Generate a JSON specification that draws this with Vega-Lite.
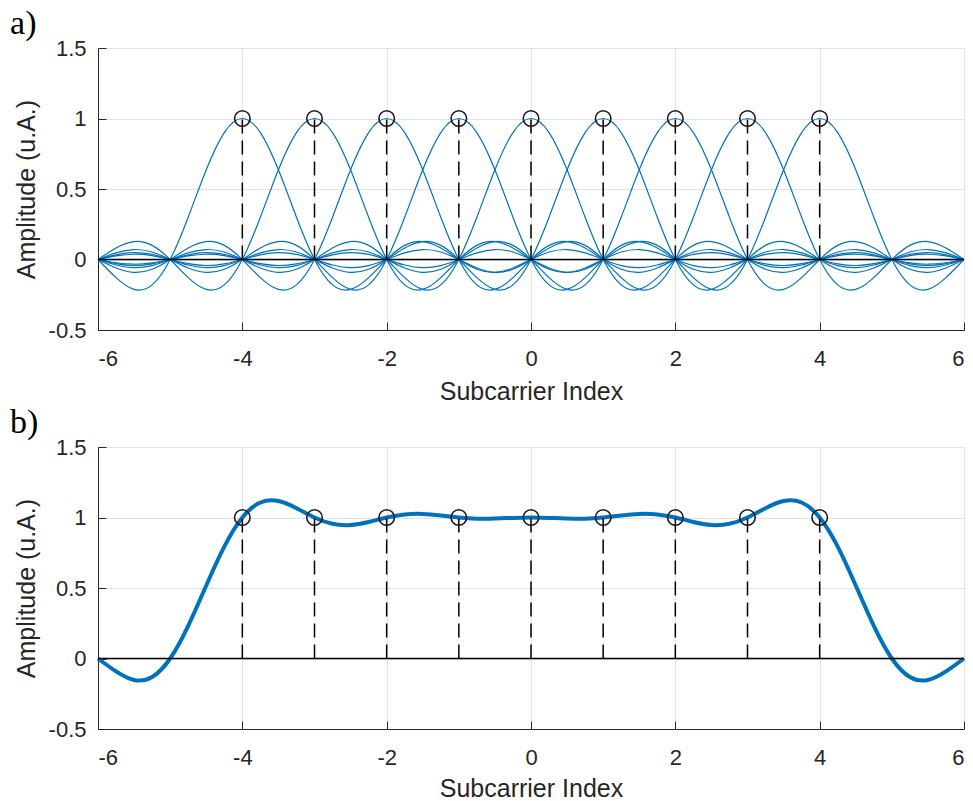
{
"$schema": "https://vega.github.io/schema/vega-lite/v6.json",
"background": "white",
"padding": {"left": 10, "top": 7, "right": 0, "bottom": 0},
"spacing": 2,
"config": {
 "view": {"stroke": null},
 "font": "Liberation Sans",
 "axis": {"domainColor": "#262626", "domainWidth": 1, "tickColor": "#262626", "tickWidth": 1, "labelColor": "#262626", "titleColor": "#262626", "labelFont": "Liberation Sans", "titleFont": "Liberation Sans", "labelFontSize": 22, "titleFontSize": 25, "titleFontWeight": "normal", "gridColor": "#e3e3e3", "gridWidth": 1, "tickSize": -8},
 "title": {"anchor": "start", "frame": "bounds", "font": "Liberation Serif", "fontSize": 34, "fontWeight": "normal", "color": "#000000", "offset": -4, "dx": -4}
},
"datasets": {
 "peaks": [{"x":-4,"y0":0,"y":1},{"x":-3,"y0":0,"y":1},{"x":-2,"y0":0,"y":1},{"x":-1,"y0":0,"y":1},{"x":0,"y0":0,"y":1},{"x":1,"y0":0,"y":1},{"x":2,"y0":0,"y":1},{"x":3,"y0":0,"y":1},{"x":4,"y0":0,"y":1}],
 "zero": [{"y":0}],
 "sum": [{"x":-6,"y":0},{"x":-5.75,"y":-0.0916},{"x":-5.5,"y":-0.1525},{"x":-5.25,"y":-0.1313},{"x":-5,"y":0},{"x":-4.75,"y":0.2316},{"x":-4.5,"y":0.5176},{"x":-4.25,"y":0.7933},{"x":-4,"y":1},{"x":-3.75,"y":1.1062},{"x":-3.5,"y":1.1168},{"x":-3.25,"y":1.0661},{"x":-3,"y":1},{"x":-2.75,"y":0.9551},{"x":-2.5,"y":0.947},{"x":-2.25,"y":0.9685},{"x":-2,"y":1},{"x":-1.75,"y":1.0218},{"x":-1.5,"y":1.0253},{"x":-1.25,"y":1.0143},{"x":-1,"y":1},{"x":-0.75,"y":0.9916},{"x":-0.5,"y":0.9923},{"x":-0.25,"y":0.9972},{"x":0,"y":1},{"x":0.25,"y":0.9972},{"x":0.5,"y":0.9923},{"x":0.75,"y":0.9916},{"x":1,"y":1},{"x":1.25,"y":1.0143},{"x":1.5,"y":1.0253},{"x":1.75,"y":1.0218},{"x":2,"y":1},{"x":2.25,"y":0.9685},{"x":2.5,"y":0.947},{"x":2.75,"y":0.9551},{"x":3,"y":1},{"x":3.25,"y":1.0661},{"x":3.5,"y":1.1168},{"x":3.75,"y":1.1062},{"x":4,"y":1},{"x":4.25,"y":0.7933},{"x":4.5,"y":0.5176},{"x":4.75,"y":0.2316},{"x":5,"y":0},{"x":5.25,"y":-0.1313},{"x":5.5,"y":-0.1525},{"x":5.75,"y":-0.0916},{"x":6,"y":0}],
 "curves": [
{"k":-4,"x":-6,"y":0},{"k":-4,"x":-5.75,"y":-0.1286},{"k":-4,"x":-5.5,"y":-0.2122},{"k":-4,"x":-5.25,"y":-0.1801},
{"k":-4,"x":-5,"y":0},{"k":-4,"x":-4.75,"y":0.3001},{"k":-4,"x":-4.5,"y":0.6366},{"k":-4,"x":-4.25,"y":0.9003},
{"k":-4,"x":-4,"y":1},{"k":-4,"x":-3.75,"y":0.9003},{"k":-4,"x":-3.5,"y":0.6366},{"k":-4,"x":-3.25,"y":0.3001},
{"k":-4,"x":-3,"y":0},{"k":-4,"x":-2.75,"y":-0.1801},{"k":-4,"x":-2.5,"y":-0.2122},{"k":-4,"x":-2.25,"y":-0.1286},
{"k":-4,"x":-2,"y":0},{"k":-4,"x":-1.75,"y":0.1},{"k":-4,"x":-1.5,"y":0.1273},{"k":-4,"x":-1.25,"y":0.0818},
{"k":-4,"x":-1,"y":0},{"k":-4,"x":-0.75,"y":-0.0693},{"k":-4,"x":-0.5,"y":-0.0909},{"k":-4,"x":-0.25,"y":-0.06},
{"k":-4,"x":0,"y":0},{"k":-4,"x":0.25,"y":0.053},{"k":-4,"x":0.5,"y":0.0707},{"k":-4,"x":0.75,"y":0.0474},
{"k":-4,"x":1,"y":0},{"k":-4,"x":1.25,"y":-0.0429},{"k":-4,"x":1.5,"y":-0.0579},{"k":-4,"x":1.75,"y":-0.0391},
{"k":-4,"x":2,"y":0},{"k":-4,"x":2.25,"y":0.036},{"k":-4,"x":2.5,"y":0.049},{"k":-4,"x":2.75,"y":0.0333},
{"k":-4,"x":3,"y":0},{"k":-4,"x":3.25,"y":-0.031},{"k":-4,"x":3.5,"y":-0.0424},{"k":-4,"x":3.75,"y":-0.029},
{"k":-4,"x":4,"y":0},{"k":-4,"x":4.25,"y":0.0273},{"k":-4,"x":4.5,"y":0.0374},{"k":-4,"x":4.75,"y":0.0257},
{"k":-4,"x":5,"y":0},{"k":-4,"x":5.25,"y":-0.0243},{"k":-4,"x":5.5,"y":-0.0335},{"k":-4,"x":5.75,"y":-0.0231},
{"k":-4,"x":6,"y":0},
{"k":-3,"x":-6,"y":0},{"k":-3,"x":-5.75,"y":0.0818},{"k":-3,"x":-5.5,"y":0.1273},{"k":-3,"x":-5.25,"y":0.1},
{"k":-3,"x":-5,"y":0},{"k":-3,"x":-4.75,"y":-0.1286},{"k":-3,"x":-4.5,"y":-0.2122},{"k":-3,"x":-4.25,"y":-0.1801},
{"k":-3,"x":-4,"y":0},{"k":-3,"x":-3.75,"y":0.3001},{"k":-3,"x":-3.5,"y":0.6366},{"k":-3,"x":-3.25,"y":0.9003},
{"k":-3,"x":-3,"y":1},{"k":-3,"x":-2.75,"y":0.9003},{"k":-3,"x":-2.5,"y":0.6366},{"k":-3,"x":-2.25,"y":0.3001},
{"k":-3,"x":-2,"y":0},{"k":-3,"x":-1.75,"y":-0.1801},{"k":-3,"x":-1.5,"y":-0.2122},{"k":-3,"x":-1.25,"y":-0.1286},
{"k":-3,"x":-1,"y":0},{"k":-3,"x":-0.75,"y":0.1},{"k":-3,"x":-0.5,"y":0.1273},{"k":-3,"x":-0.25,"y":0.0818},
{"k":-3,"x":0,"y":0},{"k":-3,"x":0.25,"y":-0.0693},{"k":-3,"x":0.5,"y":-0.0909},{"k":-3,"x":0.75,"y":-0.06},
{"k":-3,"x":1,"y":0},{"k":-3,"x":1.25,"y":0.053},{"k":-3,"x":1.5,"y":0.0707},{"k":-3,"x":1.75,"y":0.0474},
{"k":-3,"x":2,"y":0},{"k":-3,"x":2.25,"y":-0.0429},{"k":-3,"x":2.5,"y":-0.0579},{"k":-3,"x":2.75,"y":-0.0391},
{"k":-3,"x":3,"y":0},{"k":-3,"x":3.25,"y":0.036},{"k":-3,"x":3.5,"y":0.049},{"k":-3,"x":3.75,"y":0.0333},
{"k":-3,"x":4,"y":0},{"k":-3,"x":4.25,"y":-0.031},{"k":-3,"x":4.5,"y":-0.0424},{"k":-3,"x":4.75,"y":-0.029},
{"k":-3,"x":5,"y":0},{"k":-3,"x":5.25,"y":0.0273},{"k":-3,"x":5.5,"y":0.0374},{"k":-3,"x":5.75,"y":0.0257},
{"k":-3,"x":6,"y":0},
{"k":-2,"x":-6,"y":0},{"k":-2,"x":-5.75,"y":-0.06},{"k":-2,"x":-5.5,"y":-0.0909},{"k":-2,"x":-5.25,"y":-0.0693},
{"k":-2,"x":-5,"y":0},{"k":-2,"x":-4.75,"y":0.0818},{"k":-2,"x":-4.5,"y":0.1273},{"k":-2,"x":-4.25,"y":0.1},
{"k":-2,"x":-4,"y":0},{"k":-2,"x":-3.75,"y":-0.1286},{"k":-2,"x":-3.5,"y":-0.2122},{"k":-2,"x":-3.25,"y":-0.1801},
{"k":-2,"x":-3,"y":0},{"k":-2,"x":-2.75,"y":0.3001},{"k":-2,"x":-2.5,"y":0.6366},{"k":-2,"x":-2.25,"y":0.9003},
{"k":-2,"x":-2,"y":1},{"k":-2,"x":-1.75,"y":0.9003},{"k":-2,"x":-1.5,"y":0.6366},{"k":-2,"x":-1.25,"y":0.3001},
{"k":-2,"x":-1,"y":0},{"k":-2,"x":-0.75,"y":-0.1801},{"k":-2,"x":-0.5,"y":-0.2122},{"k":-2,"x":-0.25,"y":-0.1286},
{"k":-2,"x":0,"y":0},{"k":-2,"x":0.25,"y":0.1},{"k":-2,"x":0.5,"y":0.1273},{"k":-2,"x":0.75,"y":0.0818},
{"k":-2,"x":1,"y":0},{"k":-2,"x":1.25,"y":-0.0693},{"k":-2,"x":1.5,"y":-0.0909},{"k":-2,"x":1.75,"y":-0.06},
{"k":-2,"x":2,"y":0},{"k":-2,"x":2.25,"y":0.053},{"k":-2,"x":2.5,"y":0.0707},{"k":-2,"x":2.75,"y":0.0474},
{"k":-2,"x":3,"y":0},{"k":-2,"x":3.25,"y":-0.0429},{"k":-2,"x":3.5,"y":-0.0579},{"k":-2,"x":3.75,"y":-0.0391},
{"k":-2,"x":4,"y":0},{"k":-2,"x":4.25,"y":0.036},{"k":-2,"x":4.5,"y":0.049},{"k":-2,"x":4.75,"y":0.0333},
{"k":-2,"x":5,"y":0},{"k":-2,"x":5.25,"y":-0.031},{"k":-2,"x":5.5,"y":-0.0424},{"k":-2,"x":5.75,"y":-0.029},
{"k":-2,"x":6,"y":0},
{"k":-1,"x":-6,"y":0},{"k":-1,"x":-5.75,"y":0.0474},{"k":-1,"x":-5.5,"y":0.0707},{"k":-1,"x":-5.25,"y":0.053},
{"k":-1,"x":-5,"y":0},{"k":-1,"x":-4.75,"y":-0.06},{"k":-1,"x":-4.5,"y":-0.0909},{"k":-1,"x":-4.25,"y":-0.0693},
{"k":-1,"x":-4,"y":0},{"k":-1,"x":-3.75,"y":0.0818},{"k":-1,"x":-3.5,"y":0.1273},{"k":-1,"x":-3.25,"y":0.1},
{"k":-1,"x":-3,"y":0},{"k":-1,"x":-2.75,"y":-0.1286},{"k":-1,"x":-2.5,"y":-0.2122},{"k":-1,"x":-2.25,"y":-0.1801},
{"k":-1,"x":-2,"y":0},{"k":-1,"x":-1.75,"y":0.3001},{"k":-1,"x":-1.5,"y":0.6366},{"k":-1,"x":-1.25,"y":0.9003},
{"k":-1,"x":-1,"y":1},{"k":-1,"x":-0.75,"y":0.9003},{"k":-1,"x":-0.5,"y":0.6366},{"k":-1,"x":-0.25,"y":0.3001},
{"k":-1,"x":0,"y":0},{"k":-1,"x":0.25,"y":-0.1801},{"k":-1,"x":0.5,"y":-0.2122},{"k":-1,"x":0.75,"y":-0.1286},
{"k":-1,"x":1,"y":0},{"k":-1,"x":1.25,"y":0.1},{"k":-1,"x":1.5,"y":0.1273},{"k":-1,"x":1.75,"y":0.0818},
{"k":-1,"x":2,"y":0},{"k":-1,"x":2.25,"y":-0.0693},{"k":-1,"x":2.5,"y":-0.0909},{"k":-1,"x":2.75,"y":-0.06},
{"k":-1,"x":3,"y":0},{"k":-1,"x":3.25,"y":0.053},{"k":-1,"x":3.5,"y":0.0707},{"k":-1,"x":3.75,"y":0.0474},
{"k":-1,"x":4,"y":0},{"k":-1,"x":4.25,"y":-0.0429},{"k":-1,"x":4.5,"y":-0.0579},{"k":-1,"x":4.75,"y":-0.0391},
{"k":-1,"x":5,"y":0},{"k":-1,"x":5.25,"y":0.036},{"k":-1,"x":5.5,"y":0.049},{"k":-1,"x":5.75,"y":0.0333},
{"k":-1,"x":6,"y":0},
{"k":0,"x":-6,"y":0},{"k":0,"x":-5.75,"y":-0.0391},{"k":0,"x":-5.5,"y":-0.0579},{"k":0,"x":-5.25,"y":-0.0429},
{"k":0,"x":-5,"y":0},{"k":0,"x":-4.75,"y":0.0474},{"k":0,"x":-4.5,"y":0.0707},{"k":0,"x":-4.25,"y":0.053},
{"k":0,"x":-4,"y":0},{"k":0,"x":-3.75,"y":-0.06},{"k":0,"x":-3.5,"y":-0.0909},{"k":0,"x":-3.25,"y":-0.0693},
{"k":0,"x":-3,"y":0},{"k":0,"x":-2.75,"y":0.0818},{"k":0,"x":-2.5,"y":0.1273},{"k":0,"x":-2.25,"y":0.1},
{"k":0,"x":-2,"y":0},{"k":0,"x":-1.75,"y":-0.1286},{"k":0,"x":-1.5,"y":-0.2122},{"k":0,"x":-1.25,"y":-0.1801},
{"k":0,"x":-1,"y":0},{"k":0,"x":-0.75,"y":0.3001},{"k":0,"x":-0.5,"y":0.6366},{"k":0,"x":-0.25,"y":0.9003},
{"k":0,"x":0,"y":1},{"k":0,"x":0.25,"y":0.9003},{"k":0,"x":0.5,"y":0.6366},{"k":0,"x":0.75,"y":0.3001},
{"k":0,"x":1,"y":0},{"k":0,"x":1.25,"y":-0.1801},{"k":0,"x":1.5,"y":-0.2122},{"k":0,"x":1.75,"y":-0.1286},
{"k":0,"x":2,"y":0},{"k":0,"x":2.25,"y":0.1},{"k":0,"x":2.5,"y":0.1273},{"k":0,"x":2.75,"y":0.0818},
{"k":0,"x":3,"y":0},{"k":0,"x":3.25,"y":-0.0693},{"k":0,"x":3.5,"y":-0.0909},{"k":0,"x":3.75,"y":-0.06},
{"k":0,"x":4,"y":0},{"k":0,"x":4.25,"y":0.053},{"k":0,"x":4.5,"y":0.0707},{"k":0,"x":4.75,"y":0.0474},
{"k":0,"x":5,"y":0},{"k":0,"x":5.25,"y":-0.0429},{"k":0,"x":5.5,"y":-0.0579},{"k":0,"x":5.75,"y":-0.0391},
{"k":0,"x":6,"y":0},
{"k":1,"x":-6,"y":0},{"k":1,"x":-5.75,"y":0.0333},{"k":1,"x":-5.5,"y":0.049},{"k":1,"x":-5.25,"y":0.036},
{"k":1,"x":-5,"y":0},{"k":1,"x":-4.75,"y":-0.0391},{"k":1,"x":-4.5,"y":-0.0579},{"k":1,"x":-4.25,"y":-0.0429},
{"k":1,"x":-4,"y":0},{"k":1,"x":-3.75,"y":0.0474},{"k":1,"x":-3.5,"y":0.0707},{"k":1,"x":-3.25,"y":0.053},
{"k":1,"x":-3,"y":0},{"k":1,"x":-2.75,"y":-0.06},{"k":1,"x":-2.5,"y":-0.0909},{"k":1,"x":-2.25,"y":-0.0693},
{"k":1,"x":-2,"y":0},{"k":1,"x":-1.75,"y":0.0818},{"k":1,"x":-1.5,"y":0.1273},{"k":1,"x":-1.25,"y":0.1},
{"k":1,"x":-1,"y":0},{"k":1,"x":-0.75,"y":-0.1286},{"k":1,"x":-0.5,"y":-0.2122},{"k":1,"x":-0.25,"y":-0.1801},
{"k":1,"x":0,"y":0},{"k":1,"x":0.25,"y":0.3001},{"k":1,"x":0.5,"y":0.6366},{"k":1,"x":0.75,"y":0.9003},
{"k":1,"x":1,"y":1},{"k":1,"x":1.25,"y":0.9003},{"k":1,"x":1.5,"y":0.6366},{"k":1,"x":1.75,"y":0.3001},
{"k":1,"x":2,"y":0},{"k":1,"x":2.25,"y":-0.1801},{"k":1,"x":2.5,"y":-0.2122},{"k":1,"x":2.75,"y":-0.1286},
{"k":1,"x":3,"y":0},{"k":1,"x":3.25,"y":0.1},{"k":1,"x":3.5,"y":0.1273},{"k":1,"x":3.75,"y":0.0818},
{"k":1,"x":4,"y":0},{"k":1,"x":4.25,"y":-0.0693},{"k":1,"x":4.5,"y":-0.0909},{"k":1,"x":4.75,"y":-0.06},
{"k":1,"x":5,"y":0},{"k":1,"x":5.25,"y":0.053},{"k":1,"x":5.5,"y":0.0707},{"k":1,"x":5.75,"y":0.0474},
{"k":1,"x":6,"y":0},
{"k":2,"x":-6,"y":0},{"k":2,"x":-5.75,"y":-0.029},{"k":2,"x":-5.5,"y":-0.0424},{"k":2,"x":-5.25,"y":-0.031},
{"k":2,"x":-5,"y":0},{"k":2,"x":-4.75,"y":0.0333},{"k":2,"x":-4.5,"y":0.049},{"k":2,"x":-4.25,"y":0.036},
{"k":2,"x":-4,"y":0},{"k":2,"x":-3.75,"y":-0.0391},{"k":2,"x":-3.5,"y":-0.0579},{"k":2,"x":-3.25,"y":-0.0429},
{"k":2,"x":-3,"y":0},{"k":2,"x":-2.75,"y":0.0474},{"k":2,"x":-2.5,"y":0.0707},{"k":2,"x":-2.25,"y":0.053},
{"k":2,"x":-2,"y":0},{"k":2,"x":-1.75,"y":-0.06},{"k":2,"x":-1.5,"y":-0.0909},{"k":2,"x":-1.25,"y":-0.0693},
{"k":2,"x":-1,"y":0},{"k":2,"x":-0.75,"y":0.0818},{"k":2,"x":-0.5,"y":0.1273},{"k":2,"x":-0.25,"y":0.1},
{"k":2,"x":0,"y":0},{"k":2,"x":0.25,"y":-0.1286},{"k":2,"x":0.5,"y":-0.2122},{"k":2,"x":0.75,"y":-0.1801},
{"k":2,"x":1,"y":0},{"k":2,"x":1.25,"y":0.3001},{"k":2,"x":1.5,"y":0.6366},{"k":2,"x":1.75,"y":0.9003},
{"k":2,"x":2,"y":1},{"k":2,"x":2.25,"y":0.9003},{"k":2,"x":2.5,"y":0.6366},{"k":2,"x":2.75,"y":0.3001},
{"k":2,"x":3,"y":0},{"k":2,"x":3.25,"y":-0.1801},{"k":2,"x":3.5,"y":-0.2122},{"k":2,"x":3.75,"y":-0.1286},
{"k":2,"x":4,"y":0},{"k":2,"x":4.25,"y":0.1},{"k":2,"x":4.5,"y":0.1273},{"k":2,"x":4.75,"y":0.0818},
{"k":2,"x":5,"y":0},{"k":2,"x":5.25,"y":-0.0693},{"k":2,"x":5.5,"y":-0.0909},{"k":2,"x":5.75,"y":-0.06},
{"k":2,"x":6,"y":0},
{"k":3,"x":-6,"y":0},{"k":3,"x":-5.75,"y":0.0257},{"k":3,"x":-5.5,"y":0.0374},{"k":3,"x":-5.25,"y":0.0273},
{"k":3,"x":-5,"y":0},{"k":3,"x":-4.75,"y":-0.029},{"k":3,"x":-4.5,"y":-0.0424},{"k":3,"x":-4.25,"y":-0.031},
{"k":3,"x":-4,"y":0},{"k":3,"x":-3.75,"y":0.0333},{"k":3,"x":-3.5,"y":0.049},{"k":3,"x":-3.25,"y":0.036},
{"k":3,"x":-3,"y":0},{"k":3,"x":-2.75,"y":-0.0391},{"k":3,"x":-2.5,"y":-0.0579},{"k":3,"x":-2.25,"y":-0.0429},
{"k":3,"x":-2,"y":0},{"k":3,"x":-1.75,"y":0.0474},{"k":3,"x":-1.5,"y":0.0707},{"k":3,"x":-1.25,"y":0.053},
{"k":3,"x":-1,"y":0},{"k":3,"x":-0.75,"y":-0.06},{"k":3,"x":-0.5,"y":-0.0909},{"k":3,"x":-0.25,"y":-0.0693},
{"k":3,"x":0,"y":0},{"k":3,"x":0.25,"y":0.0818},{"k":3,"x":0.5,"y":0.1273},{"k":3,"x":0.75,"y":0.1},
{"k":3,"x":1,"y":0},{"k":3,"x":1.25,"y":-0.1286},{"k":3,"x":1.5,"y":-0.2122},{"k":3,"x":1.75,"y":-0.1801},
{"k":3,"x":2,"y":0},{"k":3,"x":2.25,"y":0.3001},{"k":3,"x":2.5,"y":0.6366},{"k":3,"x":2.75,"y":0.9003},
{"k":3,"x":3,"y":1},{"k":3,"x":3.25,"y":0.9003},{"k":3,"x":3.5,"y":0.6366},{"k":3,"x":3.75,"y":0.3001},
{"k":3,"x":4,"y":0},{"k":3,"x":4.25,"y":-0.1801},{"k":3,"x":4.5,"y":-0.2122},{"k":3,"x":4.75,"y":-0.1286},
{"k":3,"x":5,"y":0},{"k":3,"x":5.25,"y":0.1},{"k":3,"x":5.5,"y":0.1273},{"k":3,"x":5.75,"y":0.0818},
{"k":3,"x":6,"y":0},
{"k":4,"x":-6,"y":0},{"k":4,"x":-5.75,"y":-0.0231},{"k":4,"x":-5.5,"y":-0.0335},{"k":4,"x":-5.25,"y":-0.0243},
{"k":4,"x":-5,"y":0},{"k":4,"x":-4.75,"y":0.0257},{"k":4,"x":-4.5,"y":0.0374},{"k":4,"x":-4.25,"y":0.0273},
{"k":4,"x":-4,"y":0},{"k":4,"x":-3.75,"y":-0.029},{"k":4,"x":-3.5,"y":-0.0424},{"k":4,"x":-3.25,"y":-0.031},
{"k":4,"x":-3,"y":0},{"k":4,"x":-2.75,"y":0.0333},{"k":4,"x":-2.5,"y":0.049},{"k":4,"x":-2.25,"y":0.036},
{"k":4,"x":-2,"y":0},{"k":4,"x":-1.75,"y":-0.0391},{"k":4,"x":-1.5,"y":-0.0579},{"k":4,"x":-1.25,"y":-0.0429},
{"k":4,"x":-1,"y":0},{"k":4,"x":-0.75,"y":0.0474},{"k":4,"x":-0.5,"y":0.0707},{"k":4,"x":-0.25,"y":0.053},
{"k":4,"x":0,"y":0},{"k":4,"x":0.25,"y":-0.06},{"k":4,"x":0.5,"y":-0.0909},{"k":4,"x":0.75,"y":-0.0693},
{"k":4,"x":1,"y":0},{"k":4,"x":1.25,"y":0.0818},{"k":4,"x":1.5,"y":0.1273},{"k":4,"x":1.75,"y":0.1},
{"k":4,"x":2,"y":0},{"k":4,"x":2.25,"y":-0.1286},{"k":4,"x":2.5,"y":-0.2122},{"k":4,"x":2.75,"y":-0.1801},
{"k":4,"x":3,"y":0},{"k":4,"x":3.25,"y":0.3001},{"k":4,"x":3.5,"y":0.6366},{"k":4,"x":3.75,"y":0.9003},
{"k":4,"x":4,"y":1},{"k":4,"x":4.25,"y":0.9003},{"k":4,"x":4.5,"y":0.6366},{"k":4,"x":4.75,"y":0.3001},
{"k":4,"x":5,"y":0},{"k":4,"x":5.25,"y":-0.1801},{"k":4,"x":5.5,"y":-0.2122},{"k":4,"x":5.75,"y":-0.1286},
{"k":4,"x":6,"y":0}
 ]
},
"vconcat": [
 {
  "width": 866, "height": 282,
  "title": {"text": "a)"},
  "layer": [
   {"data": {"name": "curves"}, "mark": {"type": "line", "color": "#0072BD", "strokeWidth": 1.2, "interpolate": "natural"},
    "encoding": {
     "x": {"field": "x", "type": "quantitative", "scale": {"domain": [-6, 6], "nice": false, "zero": false}, "axis": {"values": [-6,-4,-2,0,2,4,6], "title": "Subcarrier Index", "labelPadding": 26, "titlePadding": 10, "labelExpr": "datum.value < 0 ? '-' + format(-datum.value, '~g') : format(datum.value, '~g')"}},
     "y": {"field": "y", "type": "quantitative", "scale": {"domain": [-0.5, 1.5], "nice": false, "zero": false}, "axis": {"values": [-0.5,0,0.5,1,1.5], "title": "Amplitude (u.A.)", "labelPadding": 20, "titlePadding": 9, "labelExpr": "datum.value < 0 ? '-' + format(-datum.value, '~g') : format(datum.value, '~g')"}},
     "detail": {"field": "k", "type": "nominal"}
    }},
   {"data": {"name": "zero"}, "mark": {"type": "rule", "color": "#000000", "strokeWidth": 1.5}, "encoding": {"y": {"field": "y", "type": "quantitative"}}},
   {"data": {"name": "peaks"}, "mark": {"type": "rule", "color": "#000000", "strokeWidth": 1.5, "strokeDash": [14, 7]}, "encoding": {"x": {"field": "x", "type": "quantitative"}, "y": {"field": "y0", "type": "quantitative"}, "y2": {"field": "y"}}},
   {"data": {"name": "peaks"}, "mark": {"type": "point", "shape": "circle", "filled": false, "color": "#1a1a1a", "size": 240, "strokeWidth": 1.6, "opacity": 1}, "encoding": {"x": {"field": "x", "type": "quantitative"}, "y": {"field": "y", "type": "quantitative"}}}
  ]
 },
 {
  "width": 866, "height": 282,
  "title": {"text": "b)"},
  "layer": [
   {"data": {"name": "sum"}, "mark": {"type": "line", "color": "#0072BD", "strokeWidth": 4, "interpolate": "natural"},
    "encoding": {
     "x": {"field": "x", "type": "quantitative", "scale": {"domain": [-6, 6], "nice": false, "zero": false}, "axis": {"values": [-6,-4,-2,0,2,4,6], "title": "Subcarrier Index", "labelPadding": 26, "titlePadding": 8, "labelExpr": "datum.value < 0 ? '-' + format(-datum.value, '~g') : format(datum.value, '~g')"}},
     "y": {"field": "y", "type": "quantitative", "scale": {"domain": [-0.5, 1.5], "nice": false, "zero": false}, "axis": {"values": [-0.5,0,0.5,1,1.5], "title": "Amplitude (u.A.)", "labelPadding": 20, "titlePadding": 9, "labelExpr": "datum.value < 0 ? '-' + format(-datum.value, '~g') : format(datum.value, '~g')"}}
    }},
   {"data": {"name": "zero"}, "mark": {"type": "rule", "color": "#000000", "strokeWidth": 1.5}, "encoding": {"y": {"field": "y", "type": "quantitative"}}},
   {"data": {"name": "peaks"}, "mark": {"type": "rule", "color": "#000000", "strokeWidth": 1.5, "strokeDash": [14, 7]}, "encoding": {"x": {"field": "x", "type": "quantitative"}, "y": {"field": "y0", "type": "quantitative"}, "y2": {"field": "y"}}},
   {"data": {"name": "peaks"}, "mark": {"type": "point", "shape": "circle", "filled": false, "color": "#1a1a1a", "size": 240, "strokeWidth": 1.6, "opacity": 1}, "encoding": {"x": {"field": "x", "type": "quantitative"}, "y": {"field": "y", "type": "quantitative"}}}
  ]
 }
]
}
